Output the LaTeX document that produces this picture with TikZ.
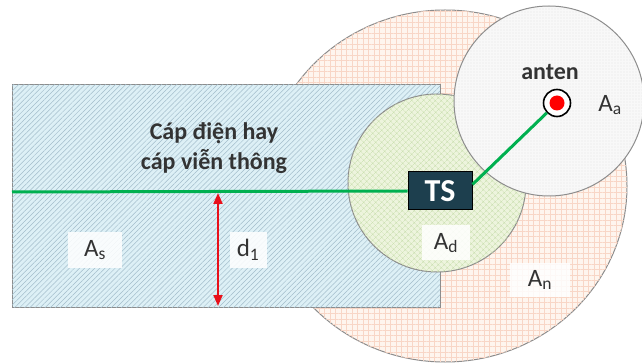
\documentclass[tikz,border=0pt]{standalone}
\usepackage{fontspec}
\setmainfont{Carlito}
\usetikzlibrary{patterns.meta,arrows.meta,shapes.geometric}
\definecolor{rectfill}{HTML}{DDF0F6}
\definecolor{recthatch}{HTML}{A3BDCB}
\definecolor{ellfill}{HTML}{FEF5EE}
\definecolor{ellgrid}{HTML}{F8D6C6}
\definecolor{adfill}{HTML}{EDF4DD}
\definecolor{adhatch}{HTML}{C6DDAB}
\definecolor{aafill}{HTML}{F8F8F8}
\definecolor{aadot}{HTML}{C4C4C4}
\definecolor{bordergray}{HTML}{8C8C8C}
\definecolor{tsfill}{HTML}{1D3F4E}
\definecolor{cablegreen}{HTML}{00B050}
\definecolor{arrowred}{HTML}{E8101A}
\definecolor{txtgray}{HTML}{333333}
\tikzset{
  area/.style={draw=bordergray, line width=1pt, inner sep=0pt},
  lbl/.style={fill=white, fill opacity=0.85, text opacity=1, text=txtgray, inner sep=0pt, font=\fontsize{25}{25}\selectfont},
  cable/.style={draw=cablegreen, line width=3pt},
}
\begin{document}
\begin{tikzpicture}[x=1pt,y=-1pt]
\useasboundingbox (0,0) rectangle (642,363);
% An ellipse
\node[area, ellipse, minimum width=364pt, minimum height=352pt, fill=ellfill,
  postaction={pattern={Hatch[angle=0,distance=5.5pt,line width=0.3pt]}, pattern color=ellgrid}] (An) at (445,186) {};
% cable zone rectangle
\node[area, rectangle, minimum width=428pt, minimum height=222pt, fill=rectfill,
  postaction={pattern={Lines[angle=45,distance=3.6pt,line width=0.5pt]}, pattern color=recthatch}] (zone) at (226,196) {};
% Ad circle
\node[area, circle, minimum size=178pt, fill=adfill,
  postaction={pattern={Hatch[angle=45,distance=4pt,line width=0.35pt]}, pattern color=adhatch}] (Ad) at (437,183) {};
% Aa circle
\node[area, circle, minimum size=190pt, fill=aafill,
  postaction={pattern={Dots[distance=3pt,radius=0.45pt]}, pattern color=aadot}] (Aa) at (549,101) {};
% TS box
\node[draw=black, line width=1pt, fill=tsfill, text=white, minimum width=64pt, minimum height=38pt, inner sep=0pt,
  font=\fontsize{32}{32}\selectfont\bfseries] (TS) at (440,191) {TS};
% antenna
\node[circle, draw=black, line width=1.6pt, fill=white, minimum size=27pt, inner sep=0pt] (ant) at (557,103) {};
\node[circle, fill=red, minimum size=15pt, inner sep=0pt] (antcore) at (ant.center) {};
% cables
\coordinate (cableL) at (12,192);
\draw[cable] (cableL) -- (TS.west);
\draw[cable] ([yshift=-13pt]TS.north east) -- (ant);
% distance arrow
\coordinate (dtop) at (218,193);
\coordinate (dbot) at (218,306);
\draw[arrowred, line width=2pt, {Triangle[length=11pt,width=9pt]}-{Triangle[length=11pt,width=9pt]}] (dtop) -- (dbot);
% labels
\node[lbl, minimum width=54pt, minimum height=36pt] (As) at (95,250) {A\textsubscript{s}};
\node[lbl, minimum width=37pt, minimum height=35pt] (d1) at (248,250) {d\textsubscript{1}};
\node[lbl, minimum width=48pt, minimum height=35pt] (Adl) at (446,243) {A\textsubscript{d}};
\node[lbl, minimum width=60pt, minimum height=34pt] (Anl) at (540,280) {A\textsubscript{n}};
\node[text=txtgray, inner sep=0pt, font=\fontsize{25}{25}\selectfont] (Aal) at (610,105) {A\textsubscript{a}};
\node[text=txtgray, inner sep=0pt, font=\fontsize{24}{24}\selectfont\bfseries] (antlbl) at (550,72) {anten};
\node[text=txtgray, inner sep=0pt, align=center, font=\fontsize{24}{30}\selectfont\bfseries] (cabletxt) at (214,148) {Cáp điện hay\\cáp viễn thông};
\end{tikzpicture}
\end{document}
